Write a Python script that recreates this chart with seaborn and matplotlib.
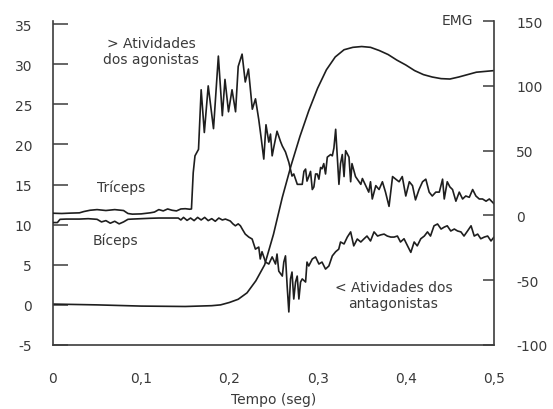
import matplotlib
matplotlib.use("Agg")
import matplotlib.pyplot as plt
import seaborn as sns
import pandas as pd

# ---- data ----
# smooth movement curve (left axis)
pos_t = [0.0, 0.05, 0.10, 0.15, 0.18, 0.19, 0.20, 0.21, 0.22, 0.23, 0.24, 0.25, 0.26, 0.27,
         0.28, 0.29, 0.30, 0.31, 0.32, 0.33, 0.34, 0.35, 0.36, 0.37, 0.38, 0.39, 0.40, 0.41,
         0.42, 0.43, 0.44, 0.45, 0.46, 0.47, 0.48, 0.49, 0.50]
pos_v = [0.1, 0.0, -0.15, -0.2, -0.1, 0.0, 0.3, 0.7, 1.5, 3.0, 5.0, 8.8, 13.4, 17.4,
         21.0, 24.2, 27.0, 29.3, 30.9, 31.8, 32.1, 32.2, 32.1, 31.7, 31.2, 30.5, 29.9, 29.2,
         28.7, 28.4, 28.2, 28.15, 28.4, 28.7, 29.0, 29.1, 29.2]

# triceps EMG (right axis)
tri_t = [0.0, 0.01, 0.02, 0.03, 0.035, 0.042, 0.05, 0.06, 0.07, 0.08, 0.085, 0.09, 0.10,
         0.11, 0.115, 0.12, 0.125, 0.13, 0.135, 0.14, 0.145, 0.15, 0.155, 0.157,
         0.159, 0.161, 0.165, 0.168, 0.1716, 0.176, 0.182, 0.1875, 0.192, 0.195, 0.199,
         0.203, 0.207, 0.210, 0.2144, 0.218, 0.2216, 0.226, 0.2296, 0.2333, 0.236, 0.239,
         0.2415, 0.2447, 0.2466, 0.2485, 0.2504, 0.254, 0.258, 0.26, 0.2636, 0.2674, 0.271,
         0.273, 0.277, 0.2807, 0.2826, 0.2845, 0.2864, 0.288, 0.29, 0.292, 0.294, 0.2958,
         0.2977, 0.2996, 0.3015, 0.3034, 0.305, 0.307, 0.309, 0.311, 0.3148, 0.3167,
         0.3185, 0.3205, 0.3224, 0.3242, 0.326, 0.328, 0.33, 0.3318, 0.3356, 0.3375,
         0.339, 0.343, 0.347, 0.349, 0.3508, 0.3545, 0.358, 0.36, 0.362, 0.366, 0.3697,
         0.3735, 0.377, 0.381, 0.385, 0.3886, 0.3924, 0.396, 0.40, 0.404, 0.4076, 0.411,
         0.415, 0.419, 0.4227, 0.4265, 0.43, 0.434, 0.438, 0.4417, 0.4436, 0.447, 0.45,
         0.453, 0.4568, 0.4606, 0.4644, 0.468, 0.472, 0.4758, 0.4795, 0.4833, 0.487,
         0.491, 0.4947, 0.4985, 0.50]
tri_e = [1.7, 1.5, 1.8, 2.0, 3.0, 4.0, 4.5, 3.8, 4.5, 3.8, 1.5, 1.0, 1.2,
         2.0, 2.6, 4.5, 3.5, 5.0, 4.0, 3.5, 5.0, 5.2, 4.8, 5.0,
         33, 46, 51, 97, 64, 100, 67, 123, 77, 105, 80,
         97, 80, 115, 124.5, 103, 113, 82, 90, 74, 60, 43.5,
         70, 56.6, 62.8, 46, 52.8, 65, 57, 53.6, 49, 41, 30.4,
         32, 24, 24, 24, 34, 35.8, 26.5, 30, 34, 20, 22,
         32, 32, 28, 37, 36, 40, 32, 45, 47, 46,
         52, 66.5, 45, 24, 40, 47, 30, 50, 45, 26,
         40, 30, 26, 24, 28.5, 23, 18, 26, 12.7, 23, 20,
         26, 18, 7, 30, 28, 26, 30, 15, 26, 23, 12,
         20, 26, 28, 18, 15, 18, 18, 28, 12.7, 26, 22,
         20, 11, 18, 12.7, 15, 14, 20, 15, 12.7, 12.7,
         11, 12.7, 10, 9]

# biceps EMG (right axis)
bic_t = [0.0, 0.005, 0.008, 0.015, 0.03, 0.04, 0.05, 0.055, 0.06, 0.065, 0.07, 0.075, 0.08,
         0.085, 0.09, 0.10, 0.11, 0.12, 0.13, 0.142, 0.145, 0.148, 0.152, 0.156, 0.16,
         0.164, 0.168, 0.172, 0.176, 0.18, 0.184, 0.188, 0.192, 0.1955, 0.201, 0.204,
         0.2068, 0.21, 0.2125, 0.215, 0.218, 0.222, 0.2258, 0.2295, 0.2333, 0.235, 0.237,
         0.241, 0.2447, 0.2485, 0.2523, 0.254, 0.256, 0.26, 0.2617, 0.2636, 0.2655,
         0.2674, 0.2693, 0.271, 0.273, 0.275, 0.2769, 0.2788, 0.2807, 0.2826, 0.2864,
         0.288, 0.29, 0.294, 0.2977, 0.3015, 0.305, 0.309, 0.3128, 0.3167, 0.3205, 0.324,
         0.326, 0.33, 0.3337, 0.3375, 0.341, 0.345, 0.349, 0.3527, 0.356, 0.36, 0.364,
         0.368, 0.3716, 0.3754, 0.379, 0.383, 0.3867, 0.3905, 0.394, 0.398, 0.402,
         0.4057, 0.4095, 0.413, 0.417, 0.421, 0.4246, 0.428, 0.432, 0.436, 0.44, 0.4436,
         0.447, 0.451, 0.455, 0.4587, 0.4625, 0.466, 0.47, 0.474, 0.4776, 0.4815, 0.485,
         0.489, 0.4928, 0.4966, 0.50]
bic_e = [-5.5, -5.5, -3.0, -2.8, -2.8, -2.5, -3.0, -5.0, -4.0, -6.0, -4.5, -6.5, -5.0,
         -3.0, -2.8, -2.5, -2.2, -2.0, -2.0, -2.0, -3.5, -1.5, -3.8, -2.0, -4.0,
         -1.5, -3.5, -1.5, -4.0, -2.5, -4.5, -2.0, -3.5, -2.8, -4.3, -6.5,
         -8.0, -6.5, -8.0, -11, -14.4, -16.7, -18.2, -26, -24.4, -33.6, -28,
         -36, -37.5, -32, -37.5, -29.8, -43, -46.8, -36, -31.2, -54.5,
         -74.5, -49, -43.7, -64.5, -51.4, -46.8, -64.5, -51.4, -49, -51.4,
         -36, -39, -33.6, -32, -37.5, -36, -41.4, -39, -31.2, -28, -26,
         -20.5, -22, -16.7, -12.7, -23.5, -18.2, -20.5, -18, -15.9, -19.7, -12.7,
         -15.9, -15, -14.4, -15.9, -16.7, -16.7, -15.9, -20.5, -18, -23.5,
         -28.5, -20.5, -23.5, -18, -15.9, -12.7, -15.9, -8, -6.6, -10.5, -9,
         -8, -12, -10.5, -12, -12.7, -15.9, -12, -8, -15.9, -14.4, -18,
         -16.7, -15.9, -19.7, -16.7]

x_ticks = [0, 0.1, 0.2, 0.3, 0.4, 0.5]
x_ticklabels = ["0", "0,1", "0,2", "0,3", "0,4", "0,5"]
left_ticks = [-5, 0, 5, 10, 15, 20, 25, 30, 35]
right_ticks = [-100, -50, 0, 50, 100, 150]

# ---- drawing ----
sns.set_style("white")
plt.rcParams['font.family'] = ['DejaVu Sans']

line_col = "#1e1e1e"
text_col = "#3a3a3a"
spine_col = "#3c3c3c"
fs = 10

fig = plt.figure(figsize=(5.53, 4.10), dpi=100)
ax = fig.add_axes([0.0958, 0.1561, 0.7975, 0.790])
ax2 = ax.twinx()

pos_df = pd.DataFrame({"t": pos_t, "v": pos_v})
tri_df = pd.DataFrame({"t": tri_t, "e": tri_e})
bic_df = pd.DataFrame({"t": bic_t, "e": bic_e})

sns.lineplot(data=pos_df, x="t", y="v", ax=ax, color=line_col, lw=1.2, estimator=None)
sns.lineplot(data=tri_df, x="t", y="e", ax=ax2, color=line_col, lw=1.2, estimator=None)
sns.lineplot(data=bic_df, x="t", y="e", ax=ax2, color=line_col, lw=1.2, estimator=None)

ax.set_xlim(0, 0.5)
ax.set_ylim(-5, 35.37)
ax2.set_ylim(-100, 150)

ax.set_xticks(x_ticks)
ax.set_xticklabels(x_ticklabels)
ax.set_yticks(left_ticks)
ax.set_yticklabels([str(v) for v in left_ticks])
ax2.set_yticks(right_ticks)
ax2.set_yticklabels([str(v) for v in right_ticks])

ax.tick_params(axis="y", direction="in", length=11, width=1.1, color=spine_col,
               pad=15, labelsize=fs, labelcolor=text_col)
ax.tick_params(axis="x", direction="in", length=8, width=1.1, color=spine_col,
               pad=19, labelsize=fs, labelcolor=text_col)
ax2.tick_params(axis="y", direction="in", length=8, width=1.1, color=spine_col,
                pad=16, labelsize=fs, labelcolor=text_col)

for a in (ax, ax2):
    a.spines["top"].set_visible(False)
    for s in ("left", "right", "bottom"):
        a.spines[s].set_color(spine_col)
        a.spines[s].set_linewidth(1.2)
ax2.spines["left"].set_visible(False)
ax2.spines["bottom"].set_visible(False)
ax.spines["right"].set_visible(False)

ax.set_xlabel("Tempo (seg)", fontsize=fs, color=text_col, labelpad=5)
ax.set_ylabel("")
ax2.set_ylabel("")

ax.text(0.111, 31.65, "> Atividades\ndos agonistas", ha="center", va="center",
        fontsize=fs, color=text_col, linespacing=1.2)
ax.text(0.077, 14.7, "Tríceps", ha="center", va="center", fontsize=fs, color=text_col)
ax.text(0.0705, 8.1, "Bíceps", ha="center", va="center", fontsize=fs, color=text_col)
ax.text(0.386, 1.25, "< Atividades dos\nantagonistas", ha="center", va="center",
        fontsize=fs, color=text_col, linespacing=1.2)
ax2.text(0.459, 150.8, "EMG", ha="center", va="center", fontsize=fs, color=text_col,
         clip_on=False)

fig.savefig("out.png", dpi=100)
